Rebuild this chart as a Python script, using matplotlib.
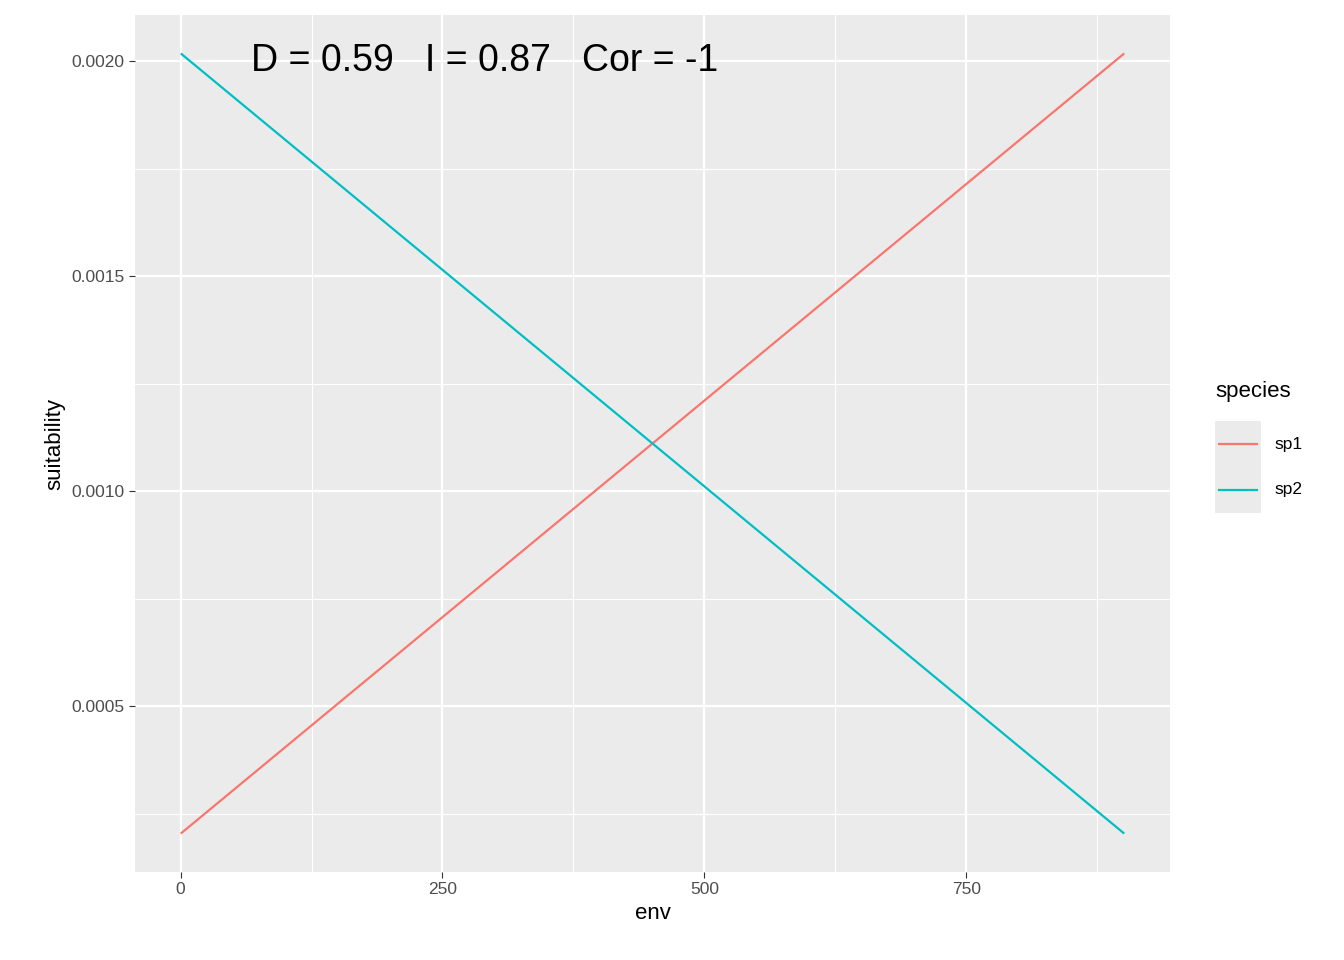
import matplotlib
matplotlib.use("Agg")
import matplotlib.pyplot as plt
from matplotlib.lines import Line2D
from matplotlib.patches import Rectangle

plt.rcParams['font.family'] = ['Liberation Sans', 'DejaVu Sans']

env = [1, 900]
sp1 = [0.000205, 0.002016]
sp2 = [0.002016, 0.000205]
species = ["sp1", "sp2"]
colors = ["#F8766D", "#00BFC4"]
xticks = [0, 250, 500, 750]
yticks = [0.0005, 0.0010, 0.0015, 0.0020]
ylabels = ["0.0005", "0.0010", "0.0015", "0.0020"]
label_text = "D = 0.59   I = 0.87   Cor = -1"

W, H = 1344, 960
fig = plt.figure(figsize=(13.44, 9.6), dpi=100)
ax = fig.add_axes([135/W, 1-872/H, (1170-135)/W, (872-15)/H])
ax.set_facecolor("#EBEBEB")
for s in ax.spines.values():
    s.set_visible(False)

ax.set_xlim(-43.5, 944.5)
ax.set_ylim(0.000114, 0.002107)
minor_x = [125, 375, 625, 875]
minor_y = [0.00025, 0.00075, 0.00125, 0.00175]
for v in minor_x:
    ax.axvline(v, color="white", lw=0.8, zorder=0)
for v in minor_y:
    ax.axhline(v, color="white", lw=0.8, zorder=0)
for v in xticks:
    ax.axvline(v, color="white", lw=1.6, zorder=0)
for v in yticks:
    ax.axhline(v, color="white", lw=1.6, zorder=0)

ax.plot(env, sp1, color=colors[0], lw=1.6)
ax.plot(env, sp2, color=colors[1], lw=1.6)

ax.set_xticks(xticks)
ax.set_yticks(yticks)
ax.set_yticklabels(ylabels)
ax.tick_params(colors="#333333", labelcolor="#4D4D4D", labelsize=12.5, length=4)
ax.set_xlabel("env", fontsize=16, labelpad=4)
ax.set_ylabel("suitability", fontsize=16, labelpad=4)

ax.text(290, 0.002, label_text, fontsize=27, ha="center", va="center")

# legend drawn manually in figure pixel coords
fig.text(1215/W, 1-391/H, "species", fontsize=16, ha="left", va="center")
for i, (name, c) in enumerate(zip(species, colors)):
    yc = 444 + 46*i
    fig.add_artist(Rectangle((1215/W, 1-(yc+23)/H), 46/W, 46/H,
                             transform=fig.transFigure, facecolor="#EBEBEB",
                             edgecolor="none"))
    fig.add_artist(Line2D([1219/W, 1257/W], [1-yc/H, 1-yc/H],
                          transform=fig.transFigure, color=c, lw=1.6))
    fig.text(1274/W, 1-yc/H, name, fontsize=12.5, ha="left", va="center")

plt.savefig("out.png", dpi=100)
